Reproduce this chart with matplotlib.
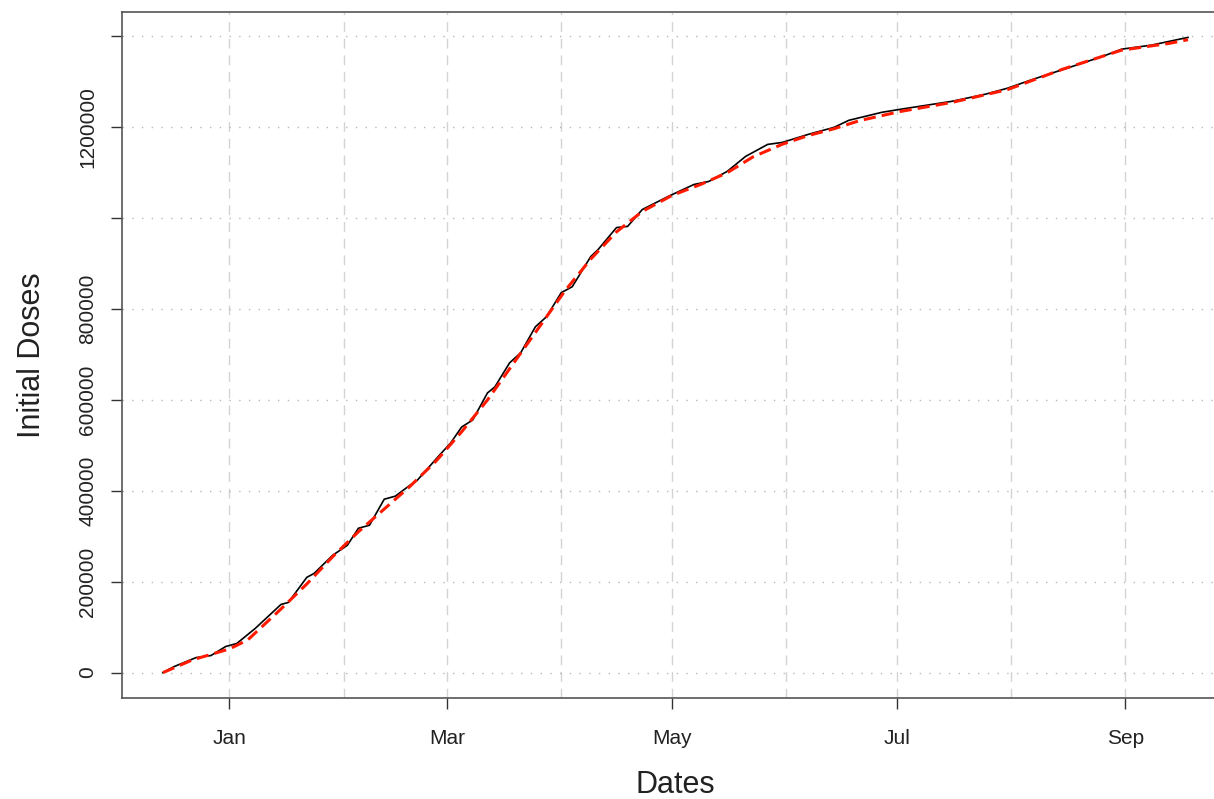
import numpy as np
import matplotlib
matplotlib.use("Agg")
import matplotlib.pyplot as plt
import matplotlib.dates as mdates
from matplotlib.ticker import FixedLocator, FixedFormatter

# cumulative initial doses (daily reported series)
dose_dates = ['2020-12-14', '2020-12-17', '2020-12-23', '2020-12-27', '2020-12-31',
              '2021-01-03', '2021-01-08', '2021-01-15', '2021-01-17', '2021-01-22',
              '2021-01-24', '2021-01-29', '2021-02-02', '2021-02-05', '2021-02-08',
              '2021-02-12', '2021-02-15', '2021-02-19', '2021-02-21', '2021-02-27',
              '2021-03-02', '2021-03-05', '2021-03-08', '2021-03-12', '2021-03-14',
              '2021-03-18', '2021-03-21', '2021-03-25', '2021-03-28', '2021-04-01',
              '2021-04-04', '2021-04-09', '2021-04-11', '2021-04-16', '2021-04-19',
              '2021-04-23', '2021-04-30', '2021-05-07', '2021-05-11', '2021-05-16',
              '2021-05-21', '2021-05-27', '2021-05-31', '2021-06-07', '2021-06-14',
              '2021-06-18', '2021-06-27', '2021-07-02', '2021-07-16', '2021-07-25',
              '2021-07-31', '2021-08-07', '2021-08-17', '2021-08-26', '2021-08-31',
              '2021-09-08', '2021-09-17', '2021-09-18']
doses = [0, 13200, 33100, 37500, 57400,
         64000, 97100, 150000, 154400, 209600,
         218400, 258100, 280200, 317700, 324300,
         381600, 388300, 412500, 423600, 478700,
         505200, 540500, 555900, 615500, 628700,
         681700, 703700, 761100, 783100, 836100,
         849300, 915500, 931000, 979500, 982000,
         1019200, 1047900, 1074300, 1080900, 1103000,
         1136000, 1162500, 1166900, 1184600, 1200000,
         1215500, 1233200, 1239800, 1257400, 1272900,
         1286100, 1305900, 1332400, 1356700, 1372100,
         1380900, 1396300, 1398000]

# smoothed fit
fit_dates = ['2020-12-14', '2020-12-22', '2021-01-01', '2021-01-06', '2021-01-15',
             '2021-01-22', '2021-01-29', '2021-02-05', '2021-02-12', '2021-02-19',
             '2021-02-26', '2021-03-05', '2021-03-12', '2021-03-19', '2021-03-26',
             '2021-04-02', '2021-04-09', '2021-04-16', '2021-04-23', '2021-05-01',
             '2021-05-09', '2021-05-16', '2021-05-23', '2021-05-31', '2021-06-07',
             '2021-06-14', '2021-06-21', '2021-07-02', '2021-07-16', '2021-07-31',
             '2021-08-15', '2021-08-31', '2021-09-13', '2021-09-18']
fit_doses = [0, 28000, 52000, 72000, 140000,
             195000, 255000, 310000, 360000, 410000,
             465000, 530000, 600000, 680000, 760000,
             840000, 910000, 970000, 1015000, 1050000,
             1075000, 1100000, 1135000, 1163000, 1182000,
             1197000, 1215000, 1235000, 1255000, 1283000,
             1328000, 1370000, 1385000, 1393000]

y_ticks = [0, 200000, 400000, 600000, 800000, 1000000, 1200000, 1400000]
y_labels = ['0', '200000', '400000', '600000', '800000', '', '1200000', '']
month_lines = ['2021-01-01', '2021-02-01', '2021-03-01', '2021-04-01', '2021-05-01',
               '2021-06-01', '2021-07-01', '2021-08-01', '2021-09-01']
x_ticks = ['2021-01-01', '2021-03-01', '2021-05-01', '2021-07-01', '2021-09-01']
x_labels = ['Jan', 'Mar', 'May', 'Jul', 'Sep']

plt.rcParams['font.family'] = ['Liberation Sans', 'DejaVu Sans']

def to_num(ds):
    return mdates.date2num(np.array(ds, dtype='datetime64[D]'))

xd = to_num(dose_dates)
xf = to_num(fit_dates)

fig = plt.figure(figsize=(12.14, 7.99), dpi=100)
ax = fig.add_axes([122 / 1214, 101 / 799, 1107 / 1214, 686 / 799])

# grid: dashed verticals at each month, dotted horizontals
for m in to_num(month_lines):
    ax.axvline(m, color='#d3d3d3', lw=1.0, ls=(0, (7, 5)), zorder=1)
for yv in y_ticks:
    ax.axhline(yv, color='#b8b8b8', lw=1.0, ls=(0, (1, 6)), zorder=1)

ax.plot(xd, doses, color='black', lw=1.2, zorder=3)
ax.plot(xf, fit_doses, color='#ff1a00', lw=2.2, ls=(0, (4, 2)), zorder=4)

# R-style 4% padding around the data range
x0, x1 = xd.min(), xd.max()
pad = 0.04 * (x1 - x0)
ax.set_xlim(x0 - pad, x1 + pad)
ymax = max(doses)
ax.set_ylim(-0.04 * ymax, 1.04 * ymax)

ax.xaxis.set_major_locator(FixedLocator(to_num(x_ticks)))
ax.xaxis.set_major_formatter(FixedFormatter(x_labels))
ax.yaxis.set_major_locator(FixedLocator(y_ticks))
ax.yaxis.set_major_formatter(FixedFormatter(y_labels))

ax.tick_params(axis='both', length=8, width=1.0, color='#333333',
               labelsize=15, labelcolor='#222222')
ax.tick_params(axis='x', pad=14)
ax.tick_params(axis='y', pad=10)
for lab in ax.get_yticklabels():
    lab.set_rotation(90)
    lab.set_va('center')

for side in ['top', 'bottom', 'left', 'right']:
    ax.spines[side].set_color('#555555')
    ax.spines[side].set_linewidth(1.2)

ax.set_xlabel('Dates', fontsize=22, color='#222222', va='center')
ax.xaxis.set_label_coords(0.5, -87 / 686)
ax.set_ylabel('Initial Doses', fontsize=22, color='#222222',
              rotation_mode='default', ha='center', va='center')
ax.yaxis.set_label_coords(-90 / 1107, 0.5)

fig.savefig('out.png', dpi=100, facecolor='white')
